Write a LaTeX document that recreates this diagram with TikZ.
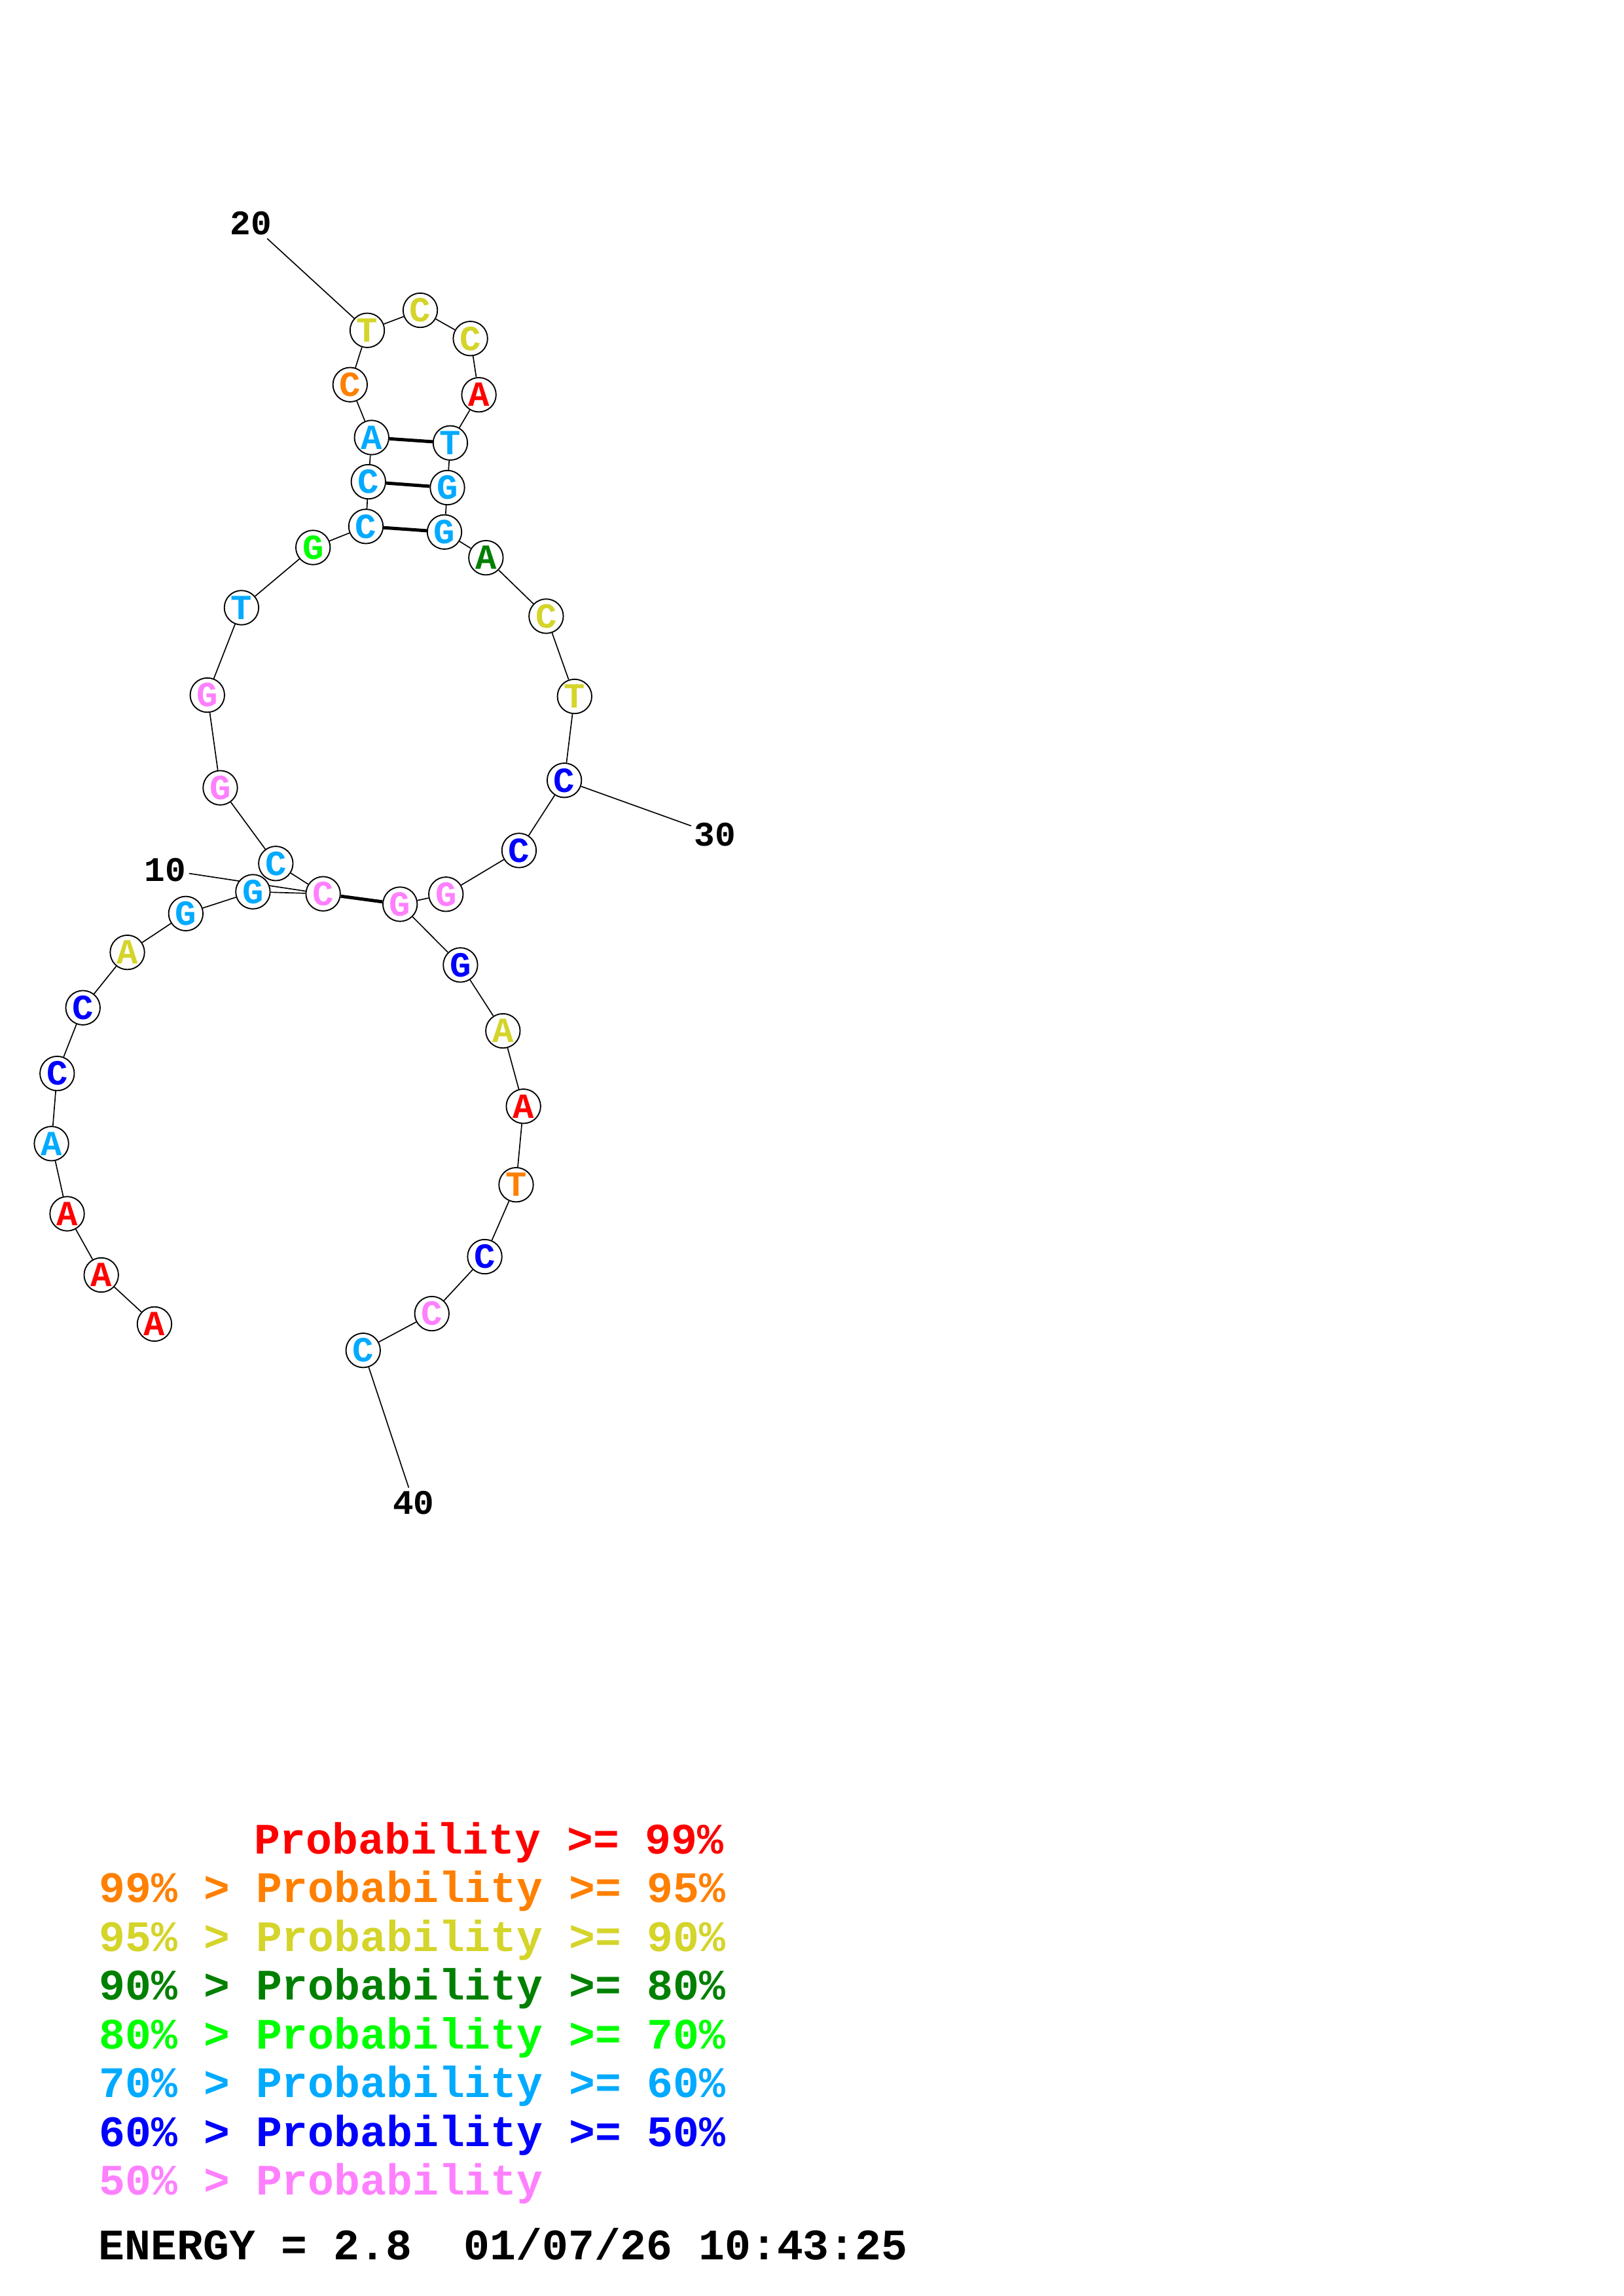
\documentclass[tikz,border=0pt]{standalone}
\usepackage{fontspec}
\setmonofont{Liberation Mono}
\usetikzlibrary{backgrounds}

\definecolor{pr99}{RGB}{255,0,0}
\definecolor{pr95}{RGB}{255,128,0}
\definecolor{pr90}{RGB}{212,212,42}
\definecolor{pr80}{RGB}{0,128,0}
\definecolor{pr70}{RGB}{0,255,0}
\definecolor{pr60}{RGB}{0,170,255}
\definecolor{pr50}{RGB}{0,0,255}
\definecolor{prlow}{RGB}{255,128,255}

\begin{document}
\frenchspacing
\begin{tikzpicture}
  [x=0.18953mm,y=-0.18941mm,
   nt/.style={circle,draw,fill=white,line width=0.45pt,minimum size=4.44mm,inner sep=0pt,
     font=\ttfamily\bfseries\fontsize{13}{13}\selectfont},
   num/.style={inner sep=1pt,font=\ttfamily\bfseries\fontsize{12.7}{12.7}\selectfont},
   key/.style={anchor=base west,inner sep=0pt,font=\ttfamily\bfseries\fontsize{16}{16}\selectfont},
   chain/.style={line width=0.4pt},
   pair/.style={line width=1.2pt}]
  \useasboundingbox (0,0) rectangle (1108,1568);

  % bases
  \foreach \i/\x/\y/\b/\c in {
      1/105.4/904.2/A/pr99, 2/69.1/870.7/A/pr99, 3/45.8/828.9/A/pr99,
      4/35.1/781.0/A/pr60, 5/39.0/733.1/C/pr50, 6/56.6/688.2/C/pr50,
      7/86.9/650.4/A/pr90, 8/126.8/623.9/G/pr60, 9/172.6/609.0/G/pr60,
      10/220.5/610.4/C/prlow, 11/188.2/589.7/C/pr60, 12/150.3/538.0/G/prlow,
      13/141.5/474.7/G/prlow, 14/164.8/415.0/T/pr60, 15/213.6/373.9/G/pr70,
      16/249.7/359.5/C/pr60, 17/251.4/329.0/C/pr60, 18/253.6/298.8/A/pr60,
      19/238.9/262.7/C/pr95, 20/250.6/225.6/T/pr90, 21/286.8/211.9/C/pr90,
      22/321.0/231.2/C/pr90, 23/326.8/269.6/A/pr99, 24/307.3/302.5/T/pr60,
      25/305.3/333.0/G/pr60, 26/303.3/363.3/G/pr60, 27/331.6/380.9/A/pr80,
      28/372.7/420.8/C/pr90, 29/392.1/475.6/T/pr90, 30/385.1/532.9/C/pr50,
      31/354.2/580.8/C/pr50, 32/304.3/610.7/G/prlow, 33/273.0/617.5/G/prlow,
      34/314.2/659.0/G/pr50, 35/343.2/704.0/A/pr90, 36/357.2/755.5/A/pr99,
      37/352.2/809.1/T/pr95, 38/330.8/858.2/C/pr50, 39/294.7/897.1/C/prlow,
      40/247.8/922.2/C/pr60}
    \node[nt,text=\c] (n\i) at (\x,\y) {\b};

  % position numbers
  \node[num] (l10) at (112.6,594.0) {10};
  \node[num] (l20) at (171.2,152.7) {20};
  \node[num] (l30) at (488.0,569.9) {30};
  \node[num] (l40) at (282.3,1026.2) {40};

  \begin{scope}[on background layer]
    \foreach \i [evaluate=\i as \j using int(\i-1)] in {2,...,40}
      \draw[chain] (n\j) -- (n\i);
    \foreach \from/\to in {n10/n33, n16/n26, n17/n25, n18/n24}
      \draw[pair] (\from) -- (\to);
    \foreach \lab/\to in {l10/n10, l20/n20, l30/n30, l40/n40}
      \draw[chain] (\lab) -- (\to);
  \end{scope}

  % legend
  \node[key,text=pr99] (k0) at (173.0,1265.9) {Probability >= 99\%};
  \foreach \r/\c/\t in {
      1/pr95/{99\% > Probability >= 95\%},
      2/pr90/{95\% > Probability >= 90\%},
      3/pr80/{90\% > Probability >= 80\%},
      4/pr70/{80\% > Probability >= 70\%},
      5/pr60/{70\% > Probability >= 60\%},
      6/pr50/{60\% > Probability >= 50\%},
      7/prlow/{50\% > Probability}}
    \node[key,text=\c] (k\r) at (67.5,1265.9+33.3*\r) {\t};
  \node[key] (energy) at (67.0,1543.0) {ENERGY = 2.8\ \ 01/07/26 10:43:25};
\end{tikzpicture}
\end{document}
